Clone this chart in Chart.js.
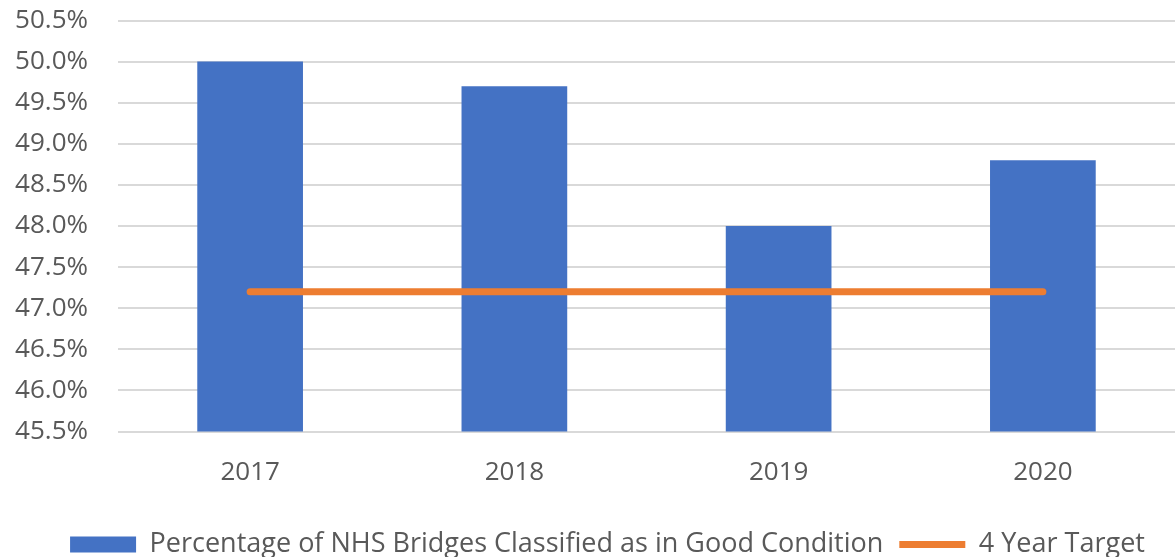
<!DOCTYPE html>
<html>
<head>
<meta charset="utf-8">
<script src="https://cdn.jsdelivr.net/npm/chart.js@4/dist/chart.umd.min.js"></script>
<style>
html,body{margin:0;padding:0;background:#fff;}
#wrap{width:1175px;height:557px;position:relative;}
</style>
</head>
<body>
<div id="wrap"><canvas id="c" width="1175" height="557"></canvas></div>
<script>
const categories = ["2017", "2018", "2019", "2020"];
const goodCondition = [50.0, 49.7, 48.0, 48.8];
const fourYearTarget = [47.2, 47.2, 47.2, 47.2];
const seriesNames = ["Percentage of NHS Bridges Classified as in Good Condition", "4 Year Target"];
const yMin = 45.5, yMax = 50.5, yStep = 0.5;

const textColor = "#595959";
const fontFamily = "'Open Sans', sans-serif";

const legendShift = {
  id: "legendShift",
  afterLayout(chart) {
    const lg = chart.legend;
    if (!lg) return;
    lg.left += 20; lg.right += 20;
    lg.top += 11; lg.bottom += 11;
  }
};

new Chart(document.getElementById("c"), {
  data: {
    labels: categories,
    datasets: [
      {
        type: "bar",
        label: seriesNames[0],
        data: goodCondition,
        backgroundColor: "#4472C4",
        borderWidth: 0,
        barPercentage: 0.4,
        categoryPercentage: 1.0,
        order: 2,
        pointStyle: "rect"
      },
      {
        type: "line",
        label: seriesNames[1],
        data: fourYearTarget,
        borderColor: "#ED7D31",
        backgroundColor: "#ED7D31",
        borderWidth: 7,
        borderCapStyle: "round",
        pointRadius: 0,
        pointHoverRadius: 0,
        fill: false,
        order: 1,
        pointStyle: "line"
      }
    ]
  },
  plugins: [legendShift],
  options: {
    responsive: false,
    animation: false,
    layout: { padding: { top: 0, right: 0, left: 0, bottom: 0 } },
    plugins: {
      tooltip: { enabled: false },
      legend: {
        position: "bottom",
        labels: {
          usePointStyle: true,
          pointStyleWidth: 66,
          boxWidth: 66,
          boxHeight: 16,
          padding: 16,
          color: textColor,
          font: { family: fontFamily, size: 27 },
          sort: (a, b) => a.datasetIndex - b.datasetIndex
        }
      }
    },
    scales: {
      x: {
        grid: { display: false, drawTicks: false },
        border: { display: false },
        afterFit(s) { s.height = 72.5; },
        ticks: { color: textColor, font: { family: fontFamily, size: 26 }, padding: 25 }
      },
      y: {
        min: yMin,
        max: yMax,
        afterFit(s) { s.width = 118; s.paddingTop = 20.5; s.paddingBottom = 0; },
        grid: { color: "#D9D9D9", lineWidth: 2, drawTicks: false },
        border: { display: false },
        ticks: {
          stepSize: yStep,
          color: textColor,
          padding: 30,
          font: { family: fontFamily, size: 26 },
          callback: v => v.toFixed(1) + "%"
        }
      }
    }
  }
});
</script>
</body>
</html>
